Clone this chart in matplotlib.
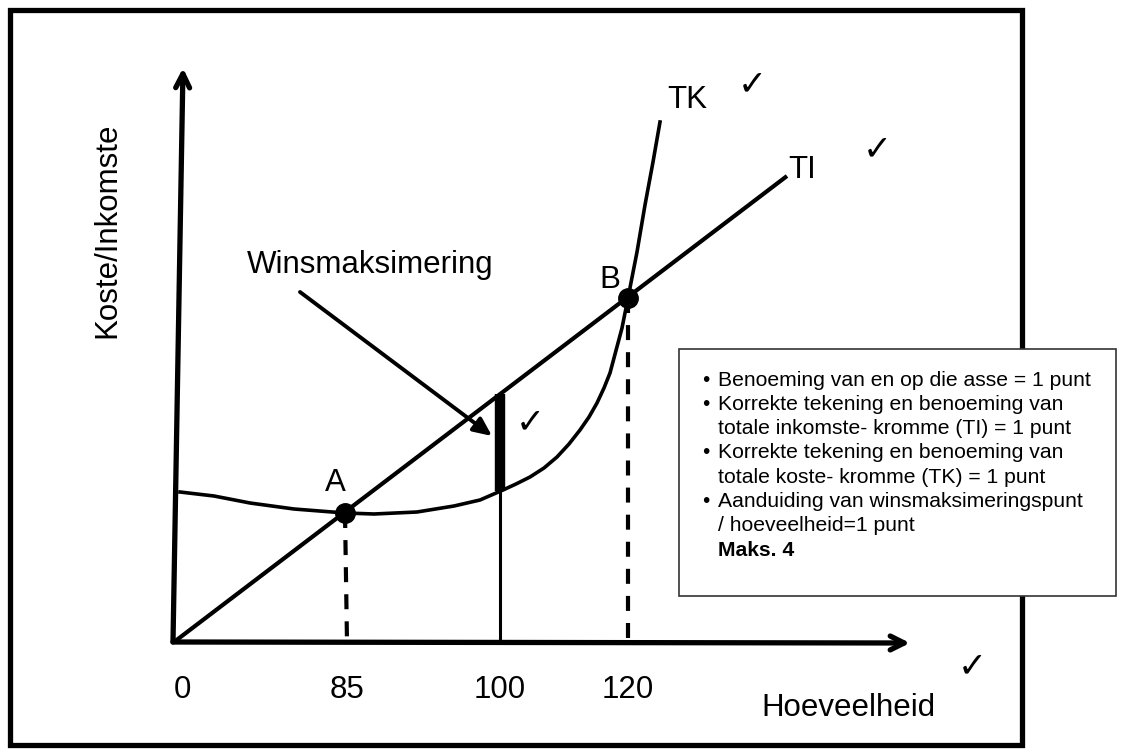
import matplotlib
matplotlib.use("Agg")
import matplotlib.pyplot as plt
from matplotlib.patches import Rectangle

plt.rcParams['font.family'] = ['Liberation Sans', 'DejaVu Sans']

# schematiese diagram-eenhede (hoeveelheid -> horisontaal, koste/inkomste -> vertikaal)
q_ticks = [0, 173, 326, 454]
q_labels = ['0', '85', '100', '120']

ti_q = [0, 613]
ti_v = [0, 466]

tk_q = [6, 40, 76, 120, 171, 200, 243, 280, 306, 329, 342, 356, 370, 383, 395, 406, 415,
        423, 430, 436, 440, 444, 448, 451, 454, 463, 471, 479, 486]
tk_v = [150, 146, 139, 133, 129, 128, 130, 136, 142, 152, 158, 165, 174, 185, 198, 212, 225,
        239, 254, 269, 284, 299, 314, 329, 344, 390, 437, 480, 520]

punt_naam = ['A', 'B']
punt_q = [171, 454]
punt_v = [129, 344]

wins_q = 326
wins_tk = 151
wins_ti = 248

riglyne = ['Benoeming van en op die asse = 1 punt',
           'Korrekte tekening en benoeming van',
           'totale inkomste- kromme (TI) = 1 punt',
           'Korrekte tekening en benoeming van',
           'totale koste- kromme (TK) = 1 punt',
           'Aanduiding van winsmaksimeringspunt',
           '/ hoeveelheid=1 punt',
           'Maks. 4']
kolpunt = [True, True, False, True, False, True, False, False]


fig = plt.figure(figsize=(11.24, 7.56), dpi=100)
ax = fig.add_axes([0, 0, 1, 1])
ax.set_xlim(-174, 950)
ax.set_ylim(-114, 642)
ax.axis('off')

# buiteraam
ax.add_patch(Rectangle((-164, -103), 1012, 735, fill=False, lw=3.8, ec='black', zorder=1))

# asse
ax.annotate('', xy=(9, 574), xytext=(-1, 0),
            arrowprops=dict(arrowstyle='->,head_length=1.0,head_width=0.5', lw=3.8, color='black',
                            shrinkA=0, shrinkB=0))
ax.annotate('', xy=(736, -1), xytext=(-1, 0),
            arrowprops=dict(arrowstyle='->,head_length=1.0,head_width=0.5', lw=3.8, color='black',
                            shrinkA=0, shrinkB=0))

# TI en TK
ax.plot(ti_q, ti_v, color='black', lw=3.0, solid_capstyle='butt', zorder=3)
ax.plot(tk_q, tk_v, color='black', lw=2.6, solid_joinstyle='round', zorder=3)

# stippellyne na die hoeveelhede
ax.plot([punt_q[0], punt_q[0] + 2], [punt_v[0], 0], color='black', lw=3.0, dashes=(3.6, 2.9), zorder=2)
ax.plot([punt_q[1], punt_q[1]], [punt_v[1], 0], color='black', lw=3.0, dashes=(3.6, 2.9), zorder=2)

# winsmaksimering
ax.plot([wins_q, wins_q], [0, wins_tk], color='black', lw=2.2, zorder=2)
ax.plot([wins_q, wins_q], [wins_tk, wins_ti], color='black', lw=7.5, solid_capstyle='butt', zorder=4)
ax.annotate('', xy=(318, 206), xytext=(126, 350),
            arrowprops=dict(arrowstyle='-|>,head_length=1.1,head_width=0.5', lw=2.8, color='black',
                            shrinkA=0, shrinkB=0))
ax.text(196, 377, 'Winsmaksimering', fontsize=22.5, ha='center', va='center')

# punte A en B
ax.plot(punt_q, punt_v, 'o', color='black', ms=14, zorder=5)
ax.text(161, 159, punt_naam[0], fontsize=22.5, ha='center', va='center')
ax.text(436, 362, punt_naam[1], fontsize=22.5, ha='center', va='center')

ax.text(513, 542, 'TK', fontsize=22.5, ha='center', va='center')
ax.text(628, 472, 'TI', fontsize=22.5, ha='center', va='center')

# as-byskrifte
for q, lab in zip(q_ticks, q_labels):
    ax.text(q + (8 if lab == '0' else 0), -48, lab, fontsize=22.5, ha='center', va='center')
ax.text(674, -66, 'Hoeveelheid', fontsize=22.5, ha='center', va='center')
ax.text(-67, 412, 'Koste/Inkomste', fontsize=22.5, ha='center', va='center', rotation=90)

# regmerkies
for x, y in [(578, 558), (703, 493), (356, 220), (798, -24)]:
    ax.text(x, y, '\u2713', fontsize=25, ha='center', va='center', family=['DejaVu Sans'])

# nasienriglyne
ax.add_patch(Rectangle((505, 46), 437, 247, fc='white', ec='#333333', lw=1.2, zorder=10))
for i, (lyn, kol) in enumerate(zip(riglyne, kolpunt)):
    y = 262 - i * 24.3
    if kol:
        ax.text(532, y, '\u2022', fontsize=15, ha='center', va='center', zorder=11)
    ax.text(544, y, lyn, fontsize=15.2, ha='left', va='center', zorder=11,
            fontweight='bold' if lyn.startswith('Maks') else 'normal')

fig.savefig('out.png', dpi=100)
